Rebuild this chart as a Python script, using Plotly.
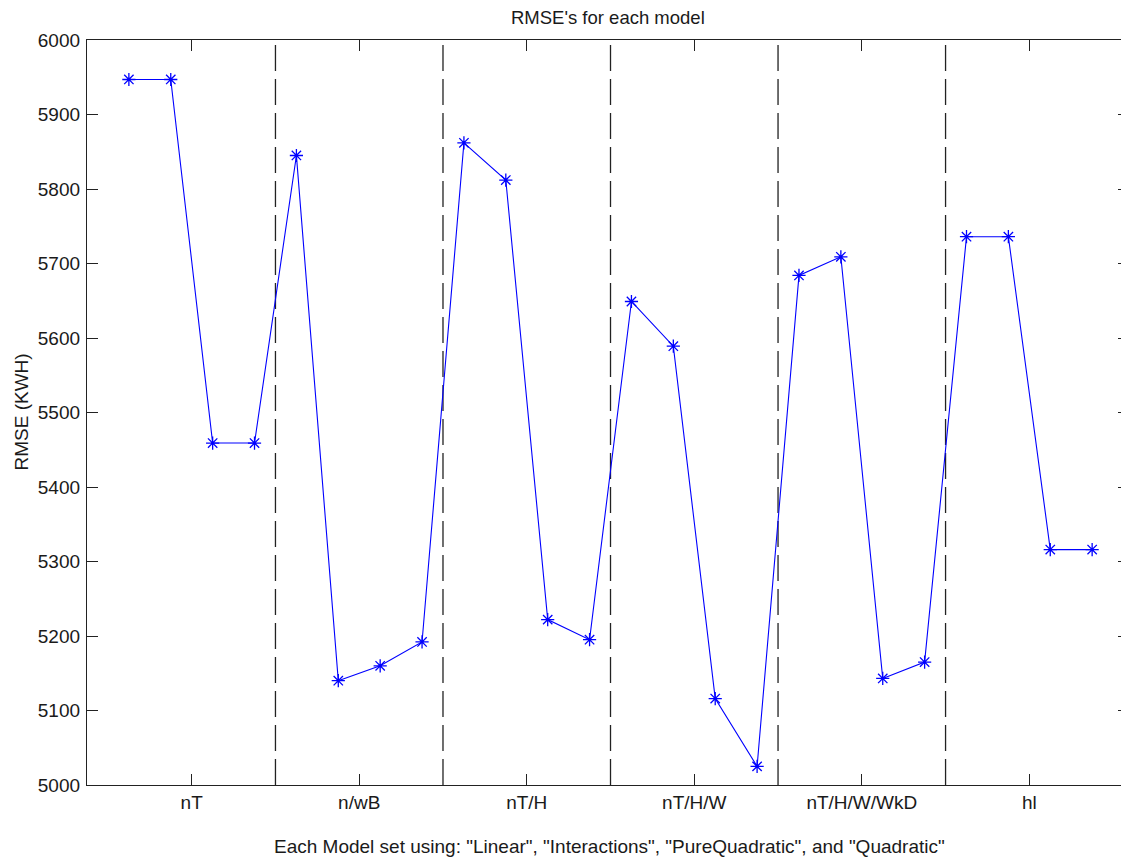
import plotly.graph_objects as go

# ---- data ----
model_index = list(range(1, 25))
rmse_values = [5947, 5947, 5459, 5459,
               5845, 5140, 5160, 5192,
               5862, 5812, 5222, 5195,
               5649, 5589, 5116, 5025,
               5684, 5709, 5143, 5165,
               5736, 5736, 5316, 5316]
group_labels = ["nT", "n/wB", "nT/H", "nT/H/W", "nT/H/W/WkD", "hl"]
group_centers = [2.5, 6.5, 10.5, 14.5, 18.5, 22.5]
separators = [4.5, 8.5, 12.5, 16.5, 20.5]
y_ticks = [5000, 5100, 5200, 5300, 5400, 5500, 5600, 5700, 5800, 5900, 6000]

FONT = "Liberation Sans, Arial, sans-serif"
TXT = "#1a1a1a"

fig = go.Figure()

# dashed separators between model sets
sep_x, sep_y = [], []
for s in separators:
    sep_x += [s, s, None]
    sep_y += [5000, 6000, None]
fig.add_trace(go.Scatter(x=sep_x, y=sep_y, mode="lines",
                         line=dict(color="#222222", width=1.3, dash="26px,8px"),
                         hoverinfo="skip", showlegend=False))

fig.add_trace(go.Scatter(x=model_index, y=rmse_values, mode="lines+markers",
                         line=dict(color="#0000ff", width=1.1),
                         marker=dict(symbol="asterisk-open", size=11,
                                     line=dict(color="#0000ff", width=1.3)),
                         showlegend=False))

# page has an 8px body margin: figure is sized/positioned to compensate
PLOT_H = 745
fig.update_layout(
    width=1121, height=855,
    margin=dict(l=79, r=0, t=32, b=78),
    paper_bgcolor="white", plot_bgcolor="white",
    font=dict(family=FONT, size=19, color=TXT),
    showlegend=False,
    xaxis=dict(range=[0, 24.88], tickmode="array", tickvals=group_centers,
               ticktext=group_labels, ticks="inside", ticklen=11, tickwidth=1.3,
               tickcolor="#222222", showline=True, linecolor="#222222", linewidth=1.3,
               mirror="ticks", showgrid=False, zeroline=False,
               tickfont=dict(family=FONT, size=19, color=TXT)),
    yaxis=dict(range=[5000, 6000], tickmode="array", tickvals=y_ticks,
               ticks="inside", ticklen=11, tickwidth=1.3, tickcolor="#222222",
               showline=True, linecolor="#222222", linewidth=1.3, mirror="ticks",
               showgrid=False, zeroline=False, ticklabelstandoff=2,
               tickfont=dict(family=FONT, size=19, color=TXT)),
    annotations=[
        dict(text="RMSE's for each model", xref="paper", yref="paper",
             x=0.5, y=1 + (40 - 17.5) / PLOT_H, xanchor="center", yanchor="middle",
             showarrow=False, font=dict(family=FONT, size=18.5, color=TXT)),
        dict(text='Each Model set using: "Linear", "Interactions", "PureQuadratic", and "Quadratic"',
             xref="paper", yref="paper", x=(609 - 87) / 1042, y=-(846.7 - 785) / PLOT_H,
             xanchor="center", yanchor="middle", showarrow=False,
             font=dict(family=FONT, size=19, color=TXT)),
        dict(text="RMSE (KWH)", xref="paper", yref="paper",
             x=(21 - 87) / 1042, y=0.5, xanchor="center", yanchor="middle",
             textangle=-90, showarrow=False,
             font=dict(family=FONT, size=19, color=TXT)),
    ],
)

fig.write_html("out.html")
